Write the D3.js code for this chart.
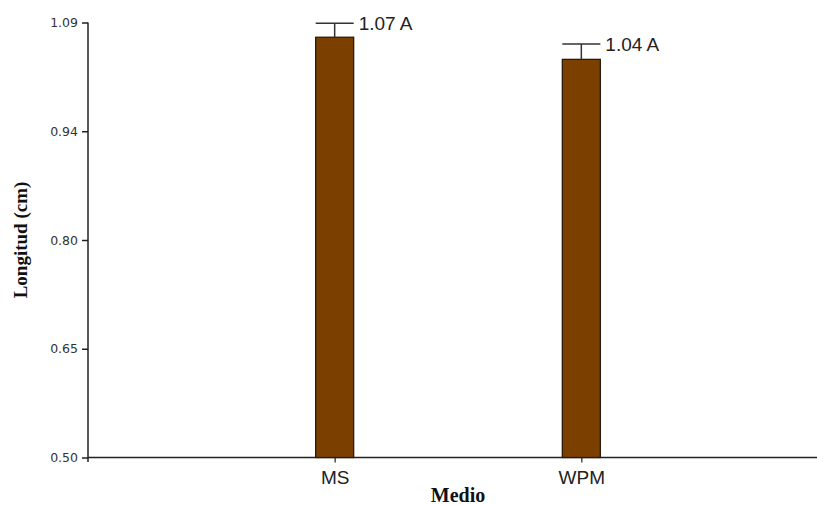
<!DOCTYPE html>
<html>
<head>
<meta charset="utf-8">
<script src="https://cdn.jsdelivr.net/npm/d3@7"></script>
<style>
  html, body { margin: 0; padding: 0; background: #fff; }
  svg { display: block; }
</style>
</head>
<body>
<svg id="chart" width="817" height="505"></svg>
<script>
// Longitud media por medio de cultivo, con error estándar y letra de agrupación
const categories = ["MS", "WPM"];
const means = [1.07, 1.04];
const errors = [0.019, 0.021];
const groups = ["A", "A"];
const yTickValues = [0.5, 0.6475, 0.795, 0.9425, 1.09];
const yTickLabels = ["0.50", "0.65", "0.80", "0.94", "1.09"];

const svg = d3.select("#chart");
const plotLeft = 88, plotTop = 22.5, plotBottom = 457.5;

const x = d3.scalePoint()
  .domain(categories)
  .range([plotLeft, 828])
  .padding(1);

const y = d3.scaleLinear()
  .domain([0.5, 1.09])
  .range([plotBottom, plotTop]);

const barW = 38;
const ink = "#222";

// Eje Y
const yAxis = svg.append("g")
  .attr("transform", `translate(${plotLeft},0)`)
  .call(d3.axisLeft(y)
    .tickValues(yTickValues)
    .tickFormat((d, i) => yTickLabels[i])
    .tickSize(6)
    .tickSizeOuter(0)
    .tickPadding(4));
yAxis.select(".domain").remove();
yAxis.append("line")
  .attr("x1", 0).attr("x2", 0)
  .attr("y1", plotTop).attr("y2", plotBottom + 4.5)
  .attr("stroke", ink).attr("stroke-width", 1.5);
yAxis.selectAll(".tick line").attr("stroke", ink).attr("stroke-width", 1.5);
yAxis.selectAll(".tick text")
  .attr("fill", "#333")
  .style("font-family", "'DejaVu Sans', Verdana, sans-serif")
  .style("font-size", "12.5px");

// Eje X
const xAxis = svg.append("g")
  .attr("transform", `translate(0,${plotBottom})`)
  .call(d3.axisBottom(x).tickSize(5).tickSizeOuter(0).tickPadding(8));
xAxis.select(".domain").remove();
xAxis.append("line")
  .attr("x1", plotLeft).attr("x2", 817)
  .attr("y1", 0).attr("y2", 0)
  .attr("stroke", ink).attr("stroke-width", 1.5);
xAxis.selectAll(".tick line").attr("stroke", ink).attr("stroke-width", 1.2);
xAxis.selectAll(".tick text")
  .attr("fill", "#222")
  .style("font-family", "'Liberation Sans', Arial, sans-serif")
  .style("font-size", "19px");

// Barras
svg.append("g").selectAll("rect")
  .data(categories)
  .join("rect")
  .attr("x", d => x(d) - barW / 2)
  .attr("y", (d, i) => y(means[i]))
  .attr("width", barW)
  .attr("height", (d, i) => y(0.5) - y(means[i]))
  .attr("fill", "#7b3f00")
  .attr("stroke", "#2a1a0c")
  .attr("stroke-width", 1.3);

// Barras de error
const eb = svg.append("g").attr("stroke", "#333").attr("stroke-width", 1.5);
categories.forEach((c, i) => {
  const yTop = y(means[i] + errors[i]);
  eb.append("line")
    .attr("x1", x(c)).attr("x2", x(c))
    .attr("y1", y(means[i])).attr("y2", yTop);
  eb.append("line")
    .attr("x1", x(c) - barW / 2).attr("x2", x(c) + barW / 2)
    .attr("y1", yTop).attr("y2", yTop);
});

// Etiquetas de valor
svg.append("g").selectAll("text")
  .data(categories)
  .join("text")
  .attr("x", d => x(d) + barW / 2 + 5)
  .attr("y", (d, i) => y(means[i] + errors[i]) + 7)
  .attr("fill", "#222")
  .style("font-family", "'Liberation Sans', Arial, sans-serif")
  .style("font-size", "19px")
  .text((d, i) => `${means[i].toFixed(2)} ${groups[i]}`);

// Títulos de ejes
svg.append("text")
  .attr("x", 458)
  .attr("y", 502)
  .attr("text-anchor", "middle")
  .attr("fill", "#111")
  .style("font-family", "'Liberation Serif', 'Times New Roman', serif")
  .style("font-weight", "bold")
  .style("font-size", "20px")
  .text("Medio");

svg.append("text")
  .attr("transform", "translate(27,240) rotate(-90)")
  .attr("text-anchor", "middle")
  .attr("fill", "#111")
  .style("font-family", "'Liberation Serif', 'Times New Roman', serif")
  .style("font-weight", "bold")
  .style("font-size", "19px")
  .text("Longitud (cm)");
</script>
</body>
</html>
